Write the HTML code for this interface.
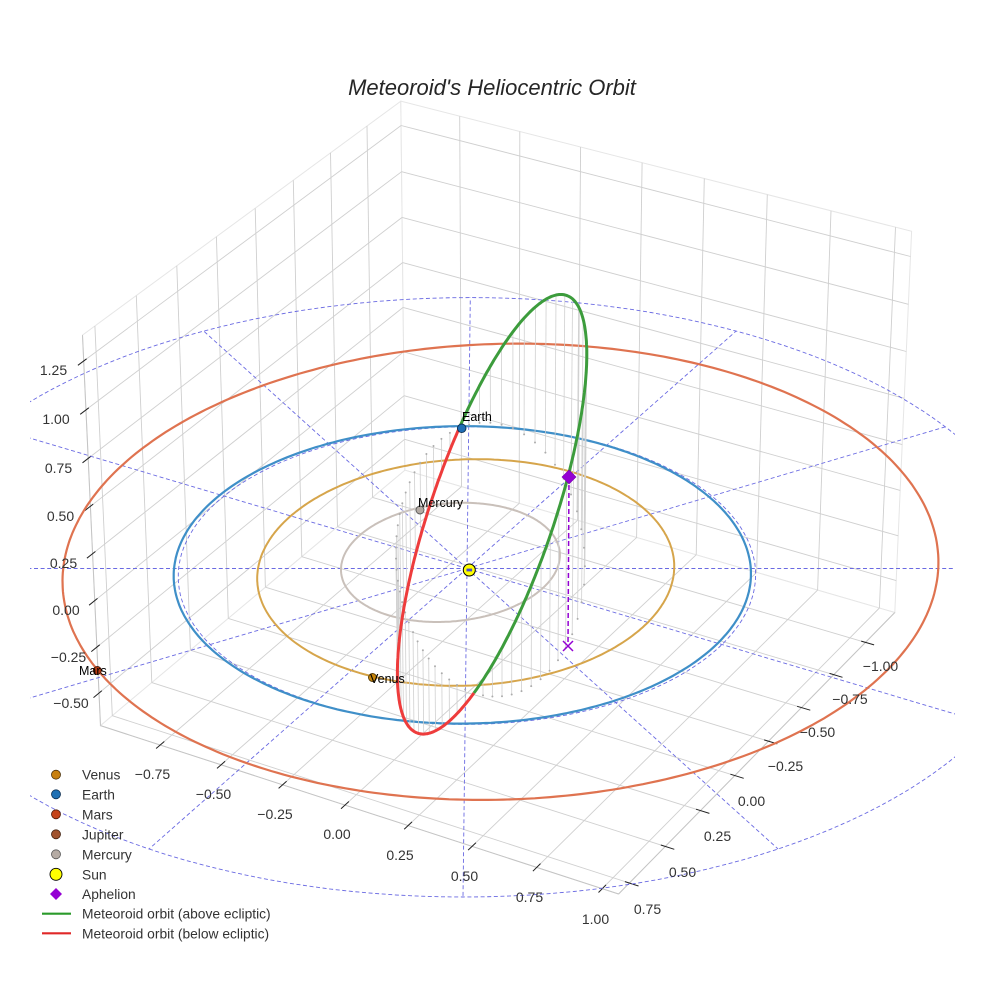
<!DOCTYPE html>
<html><head><meta charset="utf-8"><title>Meteoroid's Heliocentric Orbit</title>
<style>
html,body{margin:0;padding:0;background:#fff;}
svg{display:block;font-family:"Liberation Sans",Arial,sans-serif;}
.tk{font-size:14px;fill:#333;text-anchor:middle;}
.lg{font-size:13.8px;fill:#333;}
.pl{font-size:12.5px;fill:#000;}
</style></head>
<body>
<svg id="s" width="984" height="984" viewBox="0 0 984 984" xmlns="http://www.w3.org/2000/svg">
<defs><clipPath id="ax"><rect x="30" y="0" width="925" height="984"/></clipPath></defs>
<rect x="0" y="0" width="984" height="984" fill="#fff"/>
<g id="grid"></g>
<g id="ticks"></g>
<g id="main" clip-path="url(#ax)"></g>
<g id="marks">
  <line x1="569" y1="477" x2="568" y2="646" stroke="#9400d3" stroke-width="1.5" stroke-dasharray="5,3"/>
  <path d="M563 641 L573 651 M573 641 L563 651" stroke="#9400d3" stroke-width="1.5" fill="none"/>
  <path d="M569 470 L576 477 L569 484 L562 477 Z" fill="#9400d3" stroke="#7a00b0" stroke-width="0.6"/>
  <circle cx="469.3" cy="570" r="6" fill="#ffff00" stroke="#000" stroke-width="1"/>
  <rect x="466.5" y="568.6" width="5.6" height="2.8" fill="#4a4ad0"/>
  <circle cx="461.7" cy="428.3" r="4.3" fill="#1f6db5" stroke="#0b2d50" stroke-width="0.9"/>
  <circle cx="420" cy="510" r="4" fill="#b3aaa3" stroke="#555" stroke-width="0.9"/>
  <circle cx="372.5" cy="677.5" r="4" fill="#c8860b" stroke="#5a3d05" stroke-width="0.9"/>
  <circle cx="97.3" cy="670.5" r="4" fill="#b83c14" stroke="#4a1a08" stroke-width="0.9"/>
  <text class="pl" x="462" y="421">Earth</text>
  <text class="pl" x="418" y="507">Mercury</text>
  <text class="pl" x="370" y="683">Venus</text>
  <text class="pl" x="79" y="675">Mars</text>
</g>
<text x="492" y="95" text-anchor="middle" font-size="22" font-style="italic" fill="#262626">Meteoroid's Heliocentric Orbit</text>
<text class="tk" x="53.5" y="375">1.25</text>
<text class="tk" x="56" y="424">1.00</text>
<text class="tk" x="58.5" y="473">0.75</text>
<text class="tk" x="60.5" y="521">0.50</text>
<text class="tk" x="63.5" y="568">0.25</text>
<text class="tk" x="66" y="615">0.00</text>
<text class="tk" x="68.5" y="662">−0.25</text>
<text class="tk" x="71" y="708">−0.50</text>
<text class="tk" x="152.5" y="779">−0.75</text>
<text class="tk" x="213.5" y="799">−0.50</text>
<text class="tk" x="275" y="819">−0.25</text>
<text class="tk" x="337" y="839">0.00</text>
<text class="tk" x="400" y="860">0.25</text>
<text class="tk" x="464.5" y="881">0.50</text>
<text class="tk" x="529.5" y="902">0.75</text>
<text class="tk" x="595.5" y="924">1.00</text>
<text class="tk" x="880.5" y="671">−1.00</text>
<text class="tk" x="850" y="704">−0.75</text>
<text class="tk" x="817.5" y="737">−0.50</text>
<text class="tk" x="785.5" y="771">−0.25</text>
<text class="tk" x="751.5" y="806">0.00</text>
<text class="tk" x="717.5" y="841">0.25</text>
<text class="tk" x="682.5" y="877">0.50</text>
<text class="tk" x="647.5" y="914">0.75</text>
<g id="legend">
  <circle cx="56" cy="774.7" r="4.5" fill="#c8800f" stroke="#4a3008" stroke-width="0.8"/>
  <text class="lg" x="82" y="779.5">Venus</text>
  <circle cx="56" cy="794.3" r="4.5" fill="#1f70b4" stroke="#0b2d50" stroke-width="0.8"/>
  <text class="lg" x="82" y="799.3">Earth</text>
  <circle cx="56" cy="814.3" r="4.5" fill="#c4441a" stroke="#4a1a08" stroke-width="0.8"/>
  <text class="lg" x="82" y="819.3">Mars</text>
  <circle cx="56" cy="834.3" r="4.5" fill="#a0522d" stroke="#40200f" stroke-width="0.8"/>
  <text class="lg" x="82" y="839.3">Jupiter</text>
  <circle cx="56" cy="854.3" r="4.5" fill="#b5aba4" stroke="#555" stroke-width="0.8"/>
  <text class="lg" x="82" y="859.3">Mercury</text>
  <circle cx="56" cy="874.3" r="6" fill="#ffff00" stroke="#000" stroke-width="0.9"/>
  <text class="lg" x="82" y="879.3">Sun</text>
  <path d="M56 888 L62 894 L56 900 L50 894 Z" fill="#9400d3"/>
  <text class="lg" x="82" y="899">Aphelion</text>
  <line x1="42" y1="913.7" x2="71" y2="913.7" stroke="#2a9a2a" stroke-width="2.2"/>
  <text class="lg" x="82" y="918.7">Meteoroid orbit (above ecliptic)</text>
  <line x1="42" y1="933.3" x2="71" y2="933.3" stroke="#e02828" stroke-width="2.2"/>
  <text class="lg" x="82" y="938.3">Meteoroid orbit (below ecliptic)</text>
</g>
</svg>
<script>
(function(){
var F=5195,CX=504.7,CY=479.3,DIST=10,KK=0.5548,KZ=0.4161,XC=-0.206,YC=0.032,ZC=0.351;
var H=1.03;
var X0=XC-H,X1=XC+H,Y0=YC-H,Y1=YC+H,Z0=ZC-H,Z1=ZC+H;
var rad=Math.PI/180;
function P(x,y,z){
  var px=(x-XC)*KK,py=(y-YC)*KK,pz=(z-ZC)*KZ;
  var a=-0.5*px+0.8660254*py;
  var b=-0.4330127*px-0.25*py+0.8660254*pz;
  var c=0.75*px+0.4330127*py+0.5*pz;
  var dd=DIST-c;
  return [CX+F*a/dd,CY-F*b/dd];
}
function path(pts,close){
  var s='';
  for(var i=0;i<pts.length;i++){s+=(i?'L':'M')+pts[i][0].toFixed(1)+' '+pts[i][1].toFixed(1);}
  return s+(close?'Z':'');
}
var NS='http://www.w3.org/2000/svg';
function add(g,tag,attrs){var e=document.createElementNS(NS,tag);for(var key in attrs){e.setAttribute(key,attrs[key]);}g.appendChild(e);return e;}
function seg(g,a,b,attrs){var o={d:path([P(a[0],a[1],a[2]),P(b[0],b[1],b[2])])};for(var key in attrs)o[key]=attrs[key];o.fill='none';add(g,'path',o);}

var G=document.getElementById('grid');
var T=document.getElementById('ticks');
var M=document.getElementById('main');

var xt=[-1,-0.75,-0.5,-0.25,0,0.25,0.5,0.75];
var yt=[-0.75,-0.5,-0.25,0,0.25,0.5,0.75,1];
var zt=[-0.5,-0.25,0,0.25,0.5,0.75,1,1.25];

var paneStyle={fill:'#ffffff',stroke:'#e6e6e6','stroke-width':1};
add(G,'path',Object.assign({d:path([P(X0,Y0,Z0),P(X1,Y0,Z0),P(X1,Y0,Z1),P(X0,Y0,Z1)],true)},paneStyle));
add(G,'path',Object.assign({d:path([P(X0,Y0,Z0),P(X0,Y1,Z0),P(X0,Y1,Z1),P(X0,Y0,Z1)],true)},paneStyle));
add(G,'path',Object.assign({d:path([P(X0,Y0,Z0),P(X1,Y0,Z0),P(X1,Y1,Z0),P(X0,Y1,Z0)],true)},paneStyle));

var gs={stroke:'#cfcfcf','stroke-width':0.9};
xt.forEach(function(x){seg(G,[x,Y0,Z0],[x,Y0,Z1],gs);seg(G,[x,Y0,Z0],[x,Y1,Z0],gs);});
yt.forEach(function(y){seg(G,[X0,y,Z0],[X0,y,Z1],gs);seg(G,[X0,y,Z0],[X1,y,Z0],gs);});
zt.forEach(function(z){seg(G,[X0,Y0,z],[X1,Y0,z],gs);seg(G,[X0,Y0,z],[X0,Y1,z],gs);});

var as={stroke:'#c4c4c4','stroke-width':1};
seg(G,[X1,Y0,Z0],[X1,Y1,Z0],as);
seg(G,[X0,Y1,Z0],[X1,Y1,Z0],as);
seg(G,[X1,Y0,Z0],[X1,Y0,Z1],as);

var dl=2.06/12, ts={stroke:'#222','stroke-width':1};
zt.forEach(function(z){seg(T,[X1+0.2*dl,Y0,z],[X1-0.1*dl,Y0,z],ts);});
yt.forEach(function(y){seg(T,[X1+0.15*dl,y,Z0],[X1-0.15*dl,y,Z0],ts);});
xt.forEach(function(x){seg(T,[x,Y1+0.2*dl,Z0],[x,Y1-0.1*dl,Z0],ts);});

var ds={stroke:'#6a6ae2','stroke-width':0.9,'stroke-dasharray':'4,2.6',fill:'none'};
function circ(R){var pts=[];for(var d=0;d<=360;d+=2){pts.push(P(R*Math.cos(d*rad),R*Math.sin(d*rad),0));}return pts;}
add(M,'path',Object.assign({d:path(circ(2))},ds));
add(M,'path',Object.assign({d:path(circ(1))},ds));
for(var d=0;d<360;d+=30){seg(M,[0,0,0],[2*Math.cos(d*rad),2*Math.sin(d*rad),0],ds);}

function orbitPts(a,e,inc,Om,varpi){
  var w=(varpi-Om)*rad,O=Om*rad,I=inc*rad,pts=[];
  for(var dg=0;dg<=360;dg+=1){
    var nu=dg*rad,r=a*(1-e*e)/(1+e*Math.cos(nu)),u=w+nu;
    var x=r*(Math.cos(O)*Math.cos(u)-Math.sin(O)*Math.sin(u)*Math.cos(I));
    var y=r*(Math.sin(O)*Math.cos(u)+Math.cos(O)*Math.sin(u)*Math.cos(I));
    var z=r*Math.sin(u)*Math.sin(I);
    pts.push(P(x,y,z));
  }
  return pts;
}
add(M,'path',{d:path(orbitPts(0.3871,0.2056,7.005,48.33,77.46)),stroke:'#c9c0ba','stroke-width':2,fill:'none'});
add(M,'path',{d:path(orbitPts(0.7233,0.0068,3.395,76.68,131.53)),stroke:'#d6a54b','stroke-width':2,fill:'none'});
add(M,'path',{d:path(orbitPts(1.0,0.0167,0,0,102.94)),stroke:'#3f8fc8','stroke-width':2.2,fill:'none'});
add(M,'path',{d:path(orbitPts(1.5237,0.0934,1.85,49.56,336.04)),stroke:'#df7350','stroke-width':2.2,fill:'none'});

var mp=0.8896,me=0.2727,mw=-68*rad,mO=32*rad,mi=69.9*rad;
var nv=[Math.cos(mO),Math.sin(mO),0],mv=[-Math.sin(mO)*Math.cos(mi),Math.cos(mO)*Math.cos(mi),Math.sin(mi)];
function met(u){var r=mp/(1+me*Math.cos(u-mw)),cu=Math.cos(u),su=Math.sin(u);
  return [r*(cu*nv[0]+su*mv[0]),r*(cu*nv[1]+su*mv[1]),r*su*mv[2]];}
for(var ud=0;ud<360;ud+=6){
  var q=met(ud*rad); if(Math.abs(q[2])<0.015) continue;
  seg(M,q,[q[0],q[1],0],{stroke:'#d0d0d0','stroke-width':0.8});
  var f=P(q[0],q[1],0);
  add(M,'circle',{cx:f[0].toFixed(1),cy:f[1].toFixed(1),r:1,fill:'#acacac'});
}
var gp=[],rp=[];
for(var ug=0;ug<=180;ug+=1){var a1=met(ug*rad);gp.push(P(a1[0],a1[1],a1[2]));}
for(var ur=180;ur<=360;ur+=1){var a2=met(ur*rad);rp.push(P(a2[0],a2[1],a2[2]));}
add(M,'path',{d:path(gp),stroke:'#3c9c3c','stroke-width':3,fill:'none','stroke-linejoin':'round'});
add(M,'path',{d:path(rp),stroke:'#ee3c3c','stroke-width':3,fill:'none','stroke-linejoin':'round'});
})();
</script>
</body></html>
